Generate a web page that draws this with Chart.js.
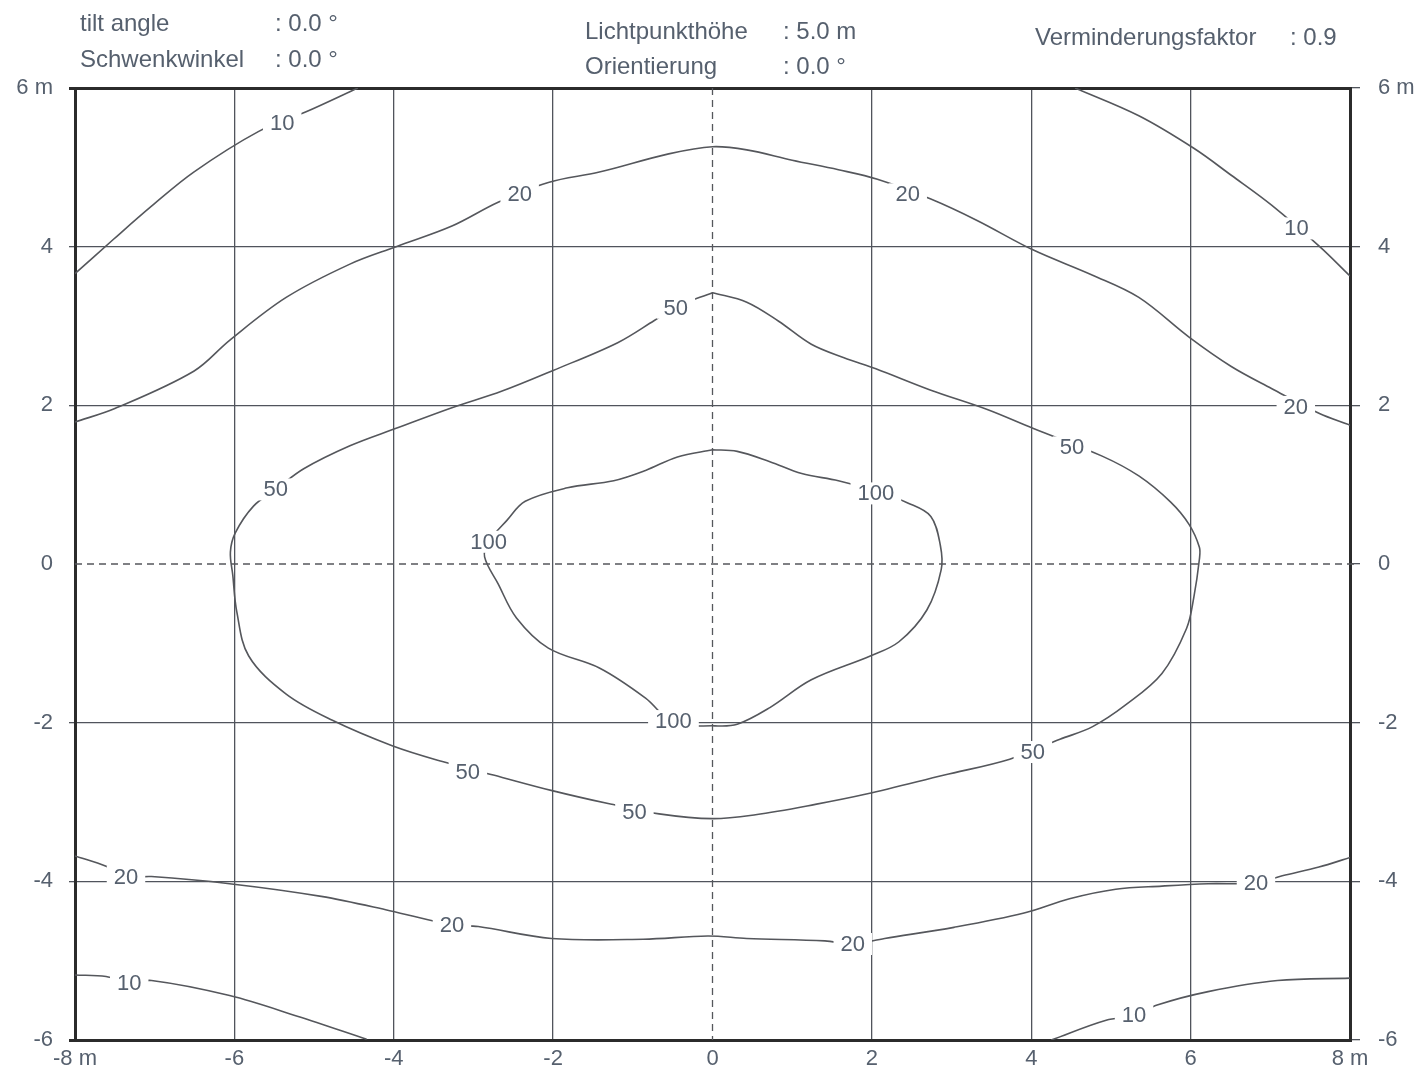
<!DOCTYPE html>
<html>
<head>
<meta charset="utf-8">
<title>Isolux</title>
<script src="https://cdn.jsdelivr.net/npm/chart.js@4/dist/chart.umd.min.js"></script>
<style>
    html, body { margin: 0; padding: 0; background: #fff; }
    canvas { display: block; }
</style>
</head>
<body>
<canvas id="isoluxChart" width="1423" height="1081"></canvas>
<script>
// --- DATOS: ejes ---
const xTicks = [-8, -6, -4, -2, 0, 2, 4, 6, 8];
const yTicks = [-6, -4, -2, 0, 2, 4, 6];

// --- DATOS: curvas isolux [x m, y m] ---
const lux10TopLeft = [[-8, 3.66], [-7.52, 4.09], [-7.04, 4.51], [-6.51, 4.94], [-5.70, 5.45], [-5.10, 5.70], [-4.45, 6.0]];
const lux10TopRight = [[4.55, 6.0], [5.35, 5.65], [6.04, 5.24], [6.51, 4.90], [7.02, 4.52], [7.62, 4.00], [8, 3.63]];
const lux20Top = [[-8, 1.79], [-7.50, 1.96], [-6.51, 2.43], [-6.06, 2.82], [-5.35, 3.36], [-4.55, 3.78], [-3.97, 4.00],
    [-3.27, 4.26], [-2.69, 4.56], [-2.06, 4.81], [-1.42, 4.94], [-0.55, 5.17], [0, 5.26], [0.43, 5.22], [1.0, 5.09],
    [1.58, 4.97], [2.07, 4.85], [2.74, 4.60], [3.32, 4.33], [4.02, 3.96], [4.77, 3.64], [5.35, 3.36], [5.98, 2.86],
    [6.51, 2.49], [7.02, 2.21], [7.61, 1.90], [8, 1.75]];
const lux50 = [[0, 3.42], [0.43, 3.30], [0.83, 3.06], [1.24, 2.77], [1.65, 2.60], [2.05, 2.46], [2.74, 2.19], [3.44, 1.95],
    [4.02, 1.71], [4.89, 1.36], [5.35, 1.11], [5.75, 0.78], [5.98, 0.50], [6.11, 0.21], [6.11, 0.06], [6.04, -0.42],
    [5.95, -0.81], [5.64, -1.38], [5.18, -1.78], [4.77, -2.05], [4.36, -2.21], [3.73, -2.46], [2.91, -2.66],
    [1.93, -2.90], [1.29, -3.03], [0.54, -3.16], [0, -3.21], [-0.67, -3.15], [-1.31, -3.02], [-2.0, -2.86],
    [-2.75, -2.66], [-3.39, -2.49], [-4.02, -2.29], [-4.77, -1.97], [-5.35, -1.64], [-5.82, -1.16], [-5.97, -0.60],
    [-6.02, -0.14], [-6.05, 0.15], [-5.99, 0.39], [-5.76, 0.73], [-5.48, 0.94], [-5.13, 1.20], [-4.55, 1.49],
    [-3.97, 1.71], [-3.27, 1.97], [-2.64, 2.18], [-2.0, 2.44], [-1.19, 2.79], [-0.73, 3.07], [-0.46, 3.24], [0, 3.42]];
const lux100 = [[0, 1.44], [0.31, 1.42], [0.72, 1.29], [1.12, 1.14], [1.58, 1.05], [2.05, 0.92], [2.45, 0.77],
    [2.74, 0.60], [2.86, 0.23], [2.87, -0.07], [2.69, -0.58], [2.34, -0.98], [1.98, -1.16], [1.24, -1.46],
    [0.72, -1.81], [0.31, -2.02], [0.03, -2.04], [-0.49, -2.0], [-0.84, -1.69], [-1.42, -1.31], [-2.06, -1.06],
    [-2.46, -0.68], [-2.69, -0.25], [-2.86, 0.09], [-2.81, 0.28], [-2.58, 0.55], [-2.35, 0.79], [-1.82, 0.96],
    [-1.24, 1.05], [-0.84, 1.18], [-0.44, 1.35], [0, 1.44]];
const lux20Bottom = [[-8, -3.68], [-7.61, -3.81], [-7.36, -3.94], [-7.04, -3.94], [-6.06, -4.03], [-4.91, -4.19],
    [-4.05, -4.37], [-3.27, -4.55], [-2.94, -4.57], [-2.02, -4.72], [-0.87, -4.73], [-0.06, -4.69], [0.43, -4.72],
    [1.41, -4.75], [1.76, -4.79], [2.16, -4.72], [3.03, -4.58], [3.91, -4.40], [4.48, -4.22], [5.06, -4.10],
    [5.64, -4.06], [6.22, -4.03], [6.82, -4.02], [7.15, -3.93], [7.61, -3.82], [8, -3.70]];
const lux10BottomLeft = [[-8, -5.18], [-7.61, -5.20], [-7.32, -5.28], [-7.04, -5.25], [-6.06, -5.44], [-5.21, -5.70], [-4.34, -5.99]];
const lux10BottomRight = [[4.25, -6.0], [4.94, -5.75], [5.29, -5.70], [5.58, -5.56], [6.22, -5.39], [7.09, -5.25], [8, -5.22]];

// --- DATOS: etiquetas de las curvas ---
const labelText = ['10', '10', '20', '20', '20', '50', '50', '50', '50', '50', '50', '100', '100', '100', '20', '20', '20', '20', '10', '10'];
const labelX = [-5.40, 7.33, -2.42, 2.45, 7.32, -0.46, 4.51, -5.48, -3.07, -0.98, 4.02, 2.05, -2.81, -0.49, -7.36, -3.27, 1.76, 6.82, -7.32, 5.29];
const labelY = [5.56, 4.23, 4.67, 4.66, 1.98, 3.23, 1.47, 0.94, -2.62, -3.13, -2.37, 0.89, 0.28, -1.98, -3.94, -4.55, -4.79, -4.02, -5.28, -5.68];

// --- DATOS: cabecera ---
const headerNames = ['tilt angle', 'Schwenkwinkel', 'Lichtpunkthöhe', 'Orientierung', 'Verminderungsfaktor'];
const headerValues = [': 0.0 °', ': 0.0 °', ': 5.0 m', ': 0.0 °', ': 0.9'];

const lineColor = '#55575c';
const textColor = '#56606e';
const toPoints = (arr) => arr.map(p => ({ x: p[0], y: p[1] }));

const curves = [lux10TopLeft, lux10TopRight, lux20Top, lux50, lux100, lux20Bottom, lux10BottomLeft, lux10BottomRight];

// --- PLUGIN: líneas discontinuas en 0 ---
const zeroLines = {
    id: 'zeroLines',
    beforeDatasetsDraw(chart) {
        const { ctx, chartArea, scales } = chart;
        const x0 = scales.x.getPixelForValue(0);
        const y0 = scales.y.getPixelForValue(0);
        ctx.save();
        ctx.strokeStyle = lineColor;
        ctx.lineWidth = 1.3;
        ctx.setLineDash([7, 5]);
        ctx.beginPath();
        ctx.moveTo(x0, chartArea.top);
        ctx.lineTo(x0, chartArea.bottom);
        ctx.moveTo(chartArea.left, y0);
        ctx.lineTo(chartArea.right + 8, y0);
        ctx.stroke();
        ctx.restore();
    }
};

// --- PLUGIN: etiquetas de las curvas ---
const curveLabels = {
    id: 'curveLabels',
    afterDatasetsDraw(chart) {
        const { ctx, scales } = chart;
        ctx.save();
        ctx.font = '22px "Liberation Sans", Arial, sans-serif';
        ctx.textAlign = 'center';
        ctx.textBaseline = 'middle';
        labelText.forEach((txt, i) => {
            const px = scales.x.getPixelForValue(labelX[i]);
            const py = scales.y.getPixelForValue(labelY[i]);
            const w = ctx.measureText(txt).width;
            ctx.fillStyle = '#fff';
            ctx.fillRect(px - w / 2 - 7, py - 11, w + 14, 22);
            ctx.fillStyle = textColor;
            ctx.fillText(txt, px, py + 1);
        });
        ctx.restore();
    }
};

// --- PLUGIN: cabecera ---
const header = {
    id: 'header',
    afterDraw(chart) {
        const { ctx } = chart;
        const pos = [[80, 275, 24], [80, 275, 60], [585, 783, 32], [585, 783, 67], [1035, 1290, 38]];
        ctx.save();
        ctx.font = '24px "Liberation Sans", Arial, sans-serif';
        ctx.fillStyle = textColor;
        ctx.textBaseline = 'middle';
        headerNames.forEach((name, i) => {
            ctx.fillText(name, pos[i][0], pos[i][2]);
            ctx.fillText(headerValues[i], pos[i][1], pos[i][2]);
        });
        ctx.restore();
    }
};

const edgeOrZero = (ctx, edge, normal, zero) => {
    const v = ctx.tick ? ctx.tick.value : null;
    if (v === 0) return zero;
    if (Math.abs(v) === edge) return 'edge';
    return normal;
};

const tickFont = { family: '"Liberation Sans", Arial, sans-serif', size: 22 };

new Chart(document.getElementById('isoluxChart'), {
    type: 'scatter',
    data: {
        datasets: curves.map(c => ({
            data: toPoints(c),
            showLine: true,
            borderColor: lineColor,
            borderWidth: 1.6,
            pointRadius: 0,
            tension: 0.35,
            fill: false
        }))
    },
    options: {
        responsive: false,
        animation: false,
        devicePixelRatio: 1,
        layout: { padding: { top: 88 } },
        plugins: { legend: { display: false }, tooltip: { enabled: false } },
        scales: {
            x: {
                type: 'linear', min: -8, max: 8,
                afterBuildTicks: (s) => { s.ticks = xTicks.map(v => ({ value: v })); },
                afterFit: (s) => { s.height = 41; },
                ticks: {
                    color: textColor, font: tickFont, padding: 6, maxRotation: 0,
                    callback: (v) => Math.abs(v) === 8 ? v + ' m' : String(v)
                },
                grid: {
                    tickLength: 0,
                    color: (c) => { const r = edgeOrZero(c, 8, '#50545c', 'rgba(0,0,0,0)'); return r === 'edge' ? '#2b2b2b' : r; },
                    lineWidth: (c) => (c.tick && Math.abs(c.tick.value) === 8) ? 3 : 1.3
                },
                border: { display: true, width: 3, color: '#2b2b2b' }
            },
            y: {
                type: 'linear', position: 'left', min: -6, max: 6,
                afterBuildTicks: (s) => { s.ticks = yTicks.map(v => ({ value: v })); },
                afterFit: (s) => { s.width = 75; },
                ticks: {
                    color: textColor, font: tickFont, padding: 16,
                    callback: (v) => v === 6 ? '6 m' : String(v)
                },
                grid: {
                    tickLength: 6,
                    color: (c) => { const r = edgeOrZero(c, 6, '#50545c', 'rgba(0,0,0,0)'); return r === 'edge' ? '#2b2b2b' : r; },
                    lineWidth: (c) => (c.tick && Math.abs(c.tick.value) === 6) ? 3 : 1.3
                },
                border: { display: true, width: 3, color: '#2b2b2b' }
            },
            y2: {
                type: 'linear', position: 'right', min: -6, max: 6,
                afterBuildTicks: (s) => { s.ticks = yTicks.map(v => ({ value: v })); },
                afterFit: (s) => { s.width = 73; },
                ticks: {
                    color: textColor, font: tickFont, padding: 18,
                    callback: (v) => v === 6 ? '6 m' : String(v)
                },
                grid: { drawOnChartArea: false, tickLength: 10, color: '#50545c', lineWidth: 1.3 },
                border: { display: true, width: 3, color: '#2b2b2b' }
            }
        }
    },
    plugins: [zeroLines, curveLabels, header]
});
</script>
</body>
</html>
